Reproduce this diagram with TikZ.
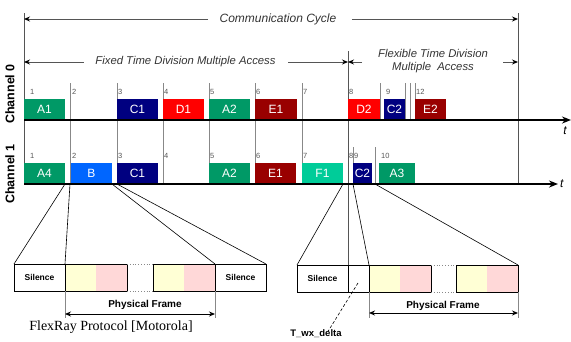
\documentclass[tikz,border=0pt]{standalone}
\usepackage{fontspec}
\setmainfont{Liberation Sans}
\newfontfamily\serifx{Liberation Serif}
\usetikzlibrary{arrows.meta}
\definecolor{cgreen}{HTML}{009966}
\definecolor{cnavy}{HTML}{000080}
\definecolor{cred}{HTML}{FF0000}
\definecolor{cdred}{HTML}{990000}
\definecolor{cblue}{HTML}{0066FF}
\definecolor{caqua}{HTML}{00CC99}
\definecolor{cyel}{HTML}{FFFFD5}
\definecolor{cpink}{HTML}{FFD8D8}
\definecolor{lgray}{HTML}{888888}
\definecolor{dgray}{HTML}{555555}
\begin{document}
\begin{tikzpicture}[x=1pt,y=-1pt,
 slotbox/.style={inner sep=0,outer sep=0,minimum height=21pt,anchor=south west,text=white,font=\fontsize{12}{12}\selectfont},
 slotline/.style={lgray,line width=0.7pt},
 bound/.style={dgray,line width=1pt},
 dimarr/.style={dgray,line width=0.9pt,-{Stealth[length=6pt,width=5pt,black]}},
 pfarr/.style={black,line width=0.9pt,{Stealth[length=6pt,width=5pt]}-{Stealth[length=6pt,width=5pt]}},
 axisline/.style={black,line width=1.8pt,-{Stealth[length=9pt,width=7pt]}},
 num/.style={anchor=west,inner sep=0,font=\fontsize{7.5}{7.5}\selectfont,text=dgray},
 seg/.style={inner sep=0,outer sep=0,anchor=north west,minimum height=27pt},
 frameline/.style={black,line width=0.9pt},
 silence/.style={font=\bfseries\fontsize{8.5}{8.5}\selectfont},
 ttl/.style={font=\itshape\fontsize{12}{14}\selectfont,text=black!80,align=center},
 pflabel/.style={font=\bfseries\fontsize{10}{10}\selectfont},
 chlabel/.style={rotate=90,font=\bfseries\fontsize{12.5}{12.5}\selectfont},
]
\useasboundingbox (0,0) rectangle (571,341);

% boundary lines
\coordinate (L0) at (24,13); \coordinate (L1) at (24,184);
\coordinate (R0) at (518,13); \coordinate (R1) at (518,184);
\coordinate (M0) at (348,51); \coordinate (M1) at (348,265);
\draw[bound] (L0) -- (L1);
\draw[bound] (R0) -- (R1);
\draw[bound] (M0) -- (M1);

% slot lines
\foreach \x in {70,117,163,209,255,302} \draw[slotline] (\x,83) -- (\x,184);
\foreach \x in {380,405,410,415} \draw[slotline] (\x,83) -- (\x,120);
\foreach \x in {353,375} \draw[slotline] (\x,147) -- (\x,184);

% titles
\node[ttl] (cc) at (278,19) {Communication Cycle};
\coordinate (ccL) at (24,19); \coordinate (ccR) at (518,19);
\draw[dimarr] ([xshift=-8pt]cc.west) -- (ccL);
\draw[dimarr] ([xshift=12pt]cc.east) -- (ccR);

\node[ttl,font=\itshape\fontsize{11.3}{13}\selectfont] (fx) at (185.5,62) {Fixed Time Division Multiple Access};
\coordinate (fxL) at (24,62); \coordinate (fxR) at (348,62);
\draw[dimarr] ([xshift=-8pt]fx.west) -- (fxL);
\draw[dimarr] ([xshift=9pt]fx.east) -- (fxR);

\node[ttl,font=\itshape\fontsize{11.3}{13.5}\selectfont] (fl) at (433,61) {Flexible Time Division\\Multiple\ \ Access};
\coordinate (flL) at (348,62); \coordinate (flR) at (518,62);
\draw[dimarr] (362,62) -- (flL);
\draw[dimarr] (503,62) -- (flR);

% channel labels
\node[chlabel] (ch0) at (10,94) {Channel 0};
\node[chlabel] (ch1) at (10,174) {Channel 1};

% channel 0 boxes
\node[slotbox,fill=cgreen,minimum width=41pt] (A1) at (24,120) {A1};
\node[slotbox,fill=cnavy,minimum width=41pt] (C1) at (117,120) {C1};
\node[slotbox,fill=cred,minimum width=41pt] (D1) at (163,120) {D1};
\node[slotbox,fill=cgreen,minimum width=41pt] (A2) at (209,120) {A2};
\node[slotbox,fill=cdred,minimum width=42pt] (E1) at (255,120) {E1};
\node[slotbox,fill=cred,minimum width=32pt] (D2) at (348,120) {D2};
\node[slotbox,fill=cnavy,minimum width=21pt] (C2) at (384,120) {C2};
\node[slotbox,fill=cdred,minimum width=31pt] (E2) at (415,120) {E2};

% channel 1 boxes
\node[slotbox,fill=cgreen,minimum width=41pt] (A4) at (24,184) {A4};
\node[slotbox,fill=cblue,minimum width=41pt] (Bb) at (71,184) {B};
\node[slotbox,fill=cnavy,minimum width=41pt] (C1b) at (117,184) {C1};
\node[slotbox,fill=cgreen,minimum width=41pt] (A2b) at (209,184) {A2};
\node[slotbox,fill=cdred,minimum width=41pt] (E1b) at (255,184) {E1};
\node[slotbox,fill=caqua,minimum width=41pt] (F1) at (302,184) {F1};
\node[slotbox,fill=cnavy,minimum width=19pt] (C2b) at (353,184) {C2};
\node[slotbox,fill=cgreen,minimum width=36pt] (A3) at (379,184) {A3};

% slot numbers
\foreach \x/\t in {30/1,72/2,118/3,164/4,210/5,256/6,303/7,349/8,386/9,416/12}
  \node[num] at (\x,92) {\t};
\foreach \x/\t in {30/1,72/2,118/3,164/4,210/5,256/6,303/7,349/8,354/9,381/10}
  \node[num] at (\x,156) {\t};

% axes
\coordinate (ax0s) at (24,120); \coordinate (ax0e) at (571,120);
\coordinate (ax1s) at (24,184); \coordinate (ax1e) at (558,184);
\draw[axisline] (ax0s) -- (ax0e);
\draw[axisline] (ax1s) -- (ax1e);
\node[font=\itshape\fontsize{12}{12}\selectfont] (t0) at (565,131) {t};
\node[font=\itshape\fontsize{12}{12}\selectfont,anchor=west,inner sep=0] (t1) at (560,184) {t};

% left frame
\node[seg,fill=white,minimum width=51pt,silence] (silA) at (14,264) {Silence};
\node[seg,fill=cyel,minimum width=31pt] (ya1) at (65,264) {};
\node[seg,fill=cpink,minimum width=31pt] (pa1) at (96,264) {};
\node[seg,fill=white,minimum width=26pt] (ga) at (127,264) {};
\node[seg,fill=cyel,minimum width=31pt] (ya2) at (153,264) {};
\node[seg,fill=cpink,minimum width=31pt] (pa2) at (184,264) {};
\node[seg,fill=white,minimum width=51pt,silence] (silB) at (215,264) {Silence};
\draw[frameline] (silA.north west) rectangle (silA.south east);
\draw[frameline] (ya1.north west) rectangle (pa1.south east);
\draw[frameline] (ya2.north west) rectangle (pa2.south east);
\draw[frameline] (silB.north west) rectangle (silB.south east);
\draw[lgray,dotted,line width=0.8pt] (ga.north west) -- (ga.north east) (ga.south west) -- (ga.south east);

% left projection lines
\coordinate (s2) at (70,184);
\draw[black,line width=0.6pt] (A4.south east) -- (silA.north west);
\draw[black,line width=0.6pt] (s2) -- (silA.north east);
\draw[black,line width=0.6pt] (Bb.south east) -- (pa2.north east);
\draw[black,line width=0.6pt] (C1b.south west) -- (silB.north east);

% physical frame left
\coordinate (pfa1) at (65,318); \coordinate (pfa2) at (215,318);
\draw[lgray,line width=0.8pt] (ya1.south west) -- (pfa1);
\draw[lgray,line width=0.8pt] (pa2.south east) -- (pfa2);
\draw[pfarr] ([yshift=4pt]pfa1) -- ([yshift=4pt]pfa2);
\node[pflabel] (pfA) at (145,305) {Physical Frame};
\node[font=\serifx\fontsize{14}{14}\selectfont] (cap) at (111,327) {FlexRay Protocol [Motorola]};

% right frame
\node[seg,fill=white,minimum width=51pt,silence] (silC) at (297,265) {Silence};
\node[seg,fill=white,minimum width=21pt] (wx) at (348,265) {};
\node[seg,fill=cyel,minimum width=31pt] (yb1) at (369,265) {};
\node[seg,fill=cpink,minimum width=31pt] (pb1) at (400,265) {};
\node[seg,fill=white,minimum width=25pt] (gb) at (431,265) {};
\node[seg,fill=cyel,minimum width=31pt] (yb2) at (456,265) {};
\node[seg,fill=cpink,minimum width=31pt] (pb2) at (487,265) {};
\draw[frameline] (silC.north west) rectangle (wx.south east);
\draw[frameline] (silC.north east) -- (silC.south east);
\draw[frameline] (yb1.north west) rectangle (pb1.south east);
\draw[frameline] (yb2.north west) rectangle (pb2.south east);
\draw[lgray,dotted,line width=0.8pt] (gb.north west) -- (gb.north east) (gb.south west) -- (gb.south east);

% right projection lines
\coordinate (s10) at (375,184);
\draw[black,line width=0.6pt] (F1.south east) -- (silC.north west);
\draw[black,line width=0.6pt] (C2b.south west) -- (yb1.north west);
\draw[black,line width=0.6pt] (s10) -- (pb2.north east);

% physical frame right
\coordinate (pfb1) at (369,318); \coordinate (pfb2) at (518,318);
\draw[lgray,line width=0.8pt] (yb1.south west) -- (pfb1);
\draw[lgray,line width=0.8pt] (pb2.south east) -- (pfb2);
\draw[pfarr] ([yshift=5pt]pfb1) -- ([yshift=5pt]pfb2);
\node[pflabel] (pfB) at (443,306) {Physical Frame};

% T_wx_delta
\coordinate (twx) at (358,283);
\node[font=\bfseries\fontsize{9.5}{9.5}\selectfont] (twxl) at (316,334) {T\_wx\_delta};
\draw[black,line width=0.6pt,dash pattern=on 3pt off 2pt] (twx) -- ([xshift=12pt,yshift=-5pt]twxl.north);
\end{tikzpicture}
\end{document}
